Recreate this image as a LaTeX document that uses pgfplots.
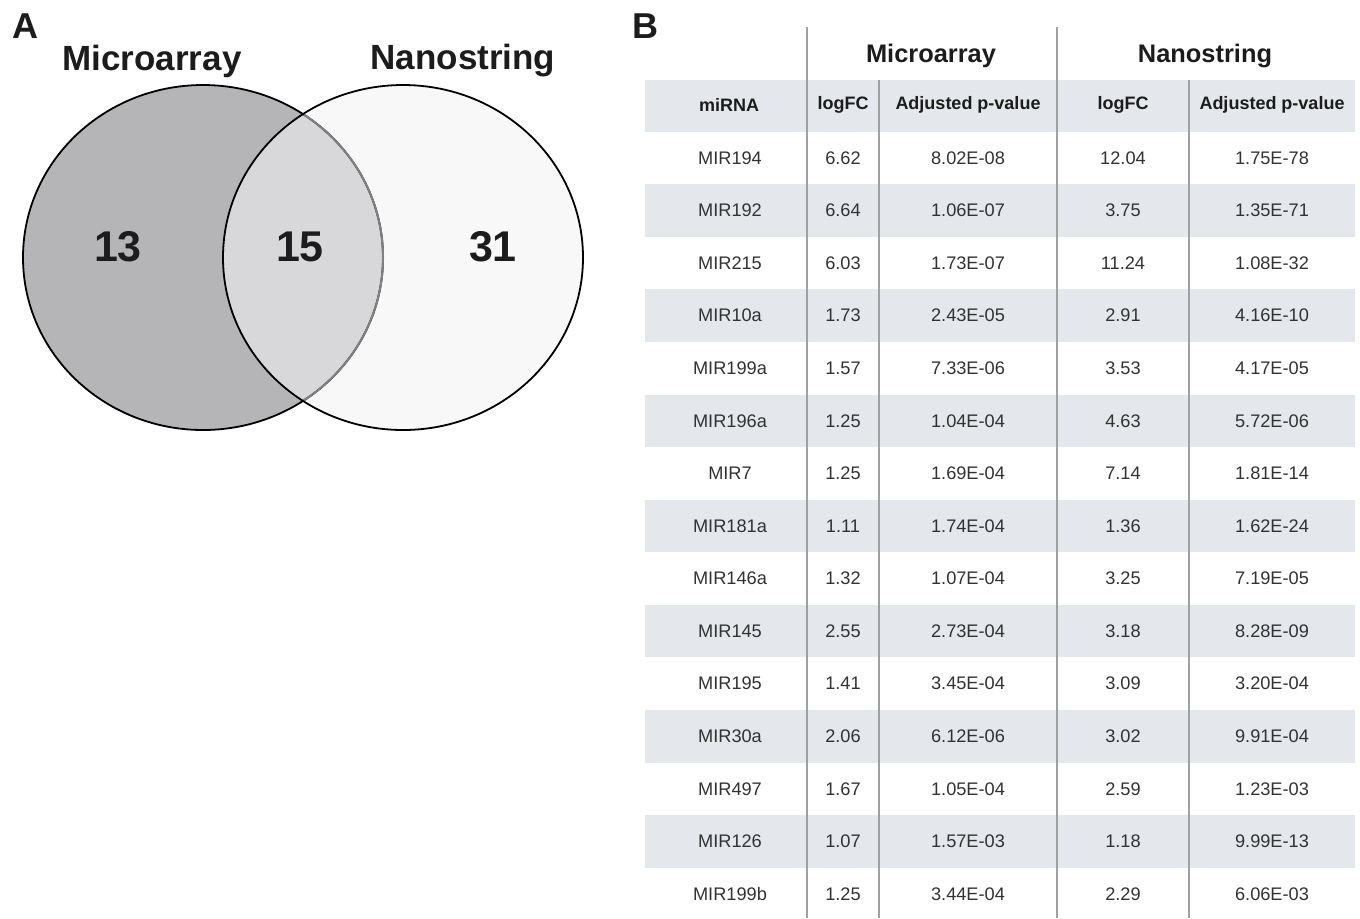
\documentclass[border=0pt]{standalone}
\usepackage{fontspec}
\setmainfont{Liberation Sans}
\usepackage{pgfplots}
\usepackage{pgfplotstable}
\pgfplotsset{compat=1.18}
\definecolor{venndark}{RGB}{181,181,184}
\definecolor{venninter}{RGB}{216,216,218}
\definecolor{vennlight}{RGB}{248,248,248}
\definecolor{bandgray}{RGB}{228,231,235}
\definecolor{linegray}{RGB}{160,160,160}
\definecolor{datatext}{RGB}{50,50,50}
\definecolor{headtext}{RGB}{28,28,28}

\pgfplotstableread{
mirna mfc madj nfc nadj
MIR194 6.62 8.02E-08 12.04 1.75E-78
MIR192 6.64 1.06E-07 3.75 1.35E-71
MIR215 6.03 1.73E-07 11.24 1.08E-32
MIR10a 1.73 2.43E-05 2.91 4.16E-10
MIR199a 1.57 7.33E-06 3.53 4.17E-05
MIR196a 1.25 1.04E-04 4.63 5.72E-06
MIR7 1.25 1.69E-04 7.14 1.81E-14
MIR181a 1.11 1.74E-04 1.36 1.62E-24
MIR146a 1.32 1.07E-04 3.25 7.19E-05
MIR145 2.55 2.73E-04 3.18 8.28E-09
MIR195 1.41 3.45E-04 3.09 3.20E-04
MIR30a 2.06 6.12E-06 3.02 9.91E-04
MIR497 1.67 1.05E-04 2.59 1.23E-03
MIR126 1.07 1.57E-03 1.18 9.99E-13
MIR199b 1.25 3.44E-04 2.29 6.06E-03
}\mirtable

\pgfplotstableread{
x y n
118 247 13
300 247 15
493 247 31
}\venntable

\begin{document}
\begin{tikzpicture}
\useasboundingbox (0,0) rectangle (680pt,459pt);
\begin{axis}[at={(0,0)}, anchor=south west,
  width=680pt, height=459pt, scale only axis,
  xmin=0, xmax=1360, ymin=0, ymax=918, y dir=reverse,
  hide axis, clip=false]

% ---------- Venn diagram ----------
\fill[venndark] (axis cs:203,257.5) ellipse [x radius=90pt, y radius=86.25pt];
\fill[vennlight] (axis cs:403,257.5) ellipse [x radius=90pt, y radius=86.25pt];
\begin{scope}
  \clip (axis cs:203,257.5) ellipse [x radius=90pt, y radius=86.25pt];
  \fill[venninter] (axis cs:403,257.5) ellipse [x radius=90pt, y radius=86.25pt];
\end{scope}
\draw[black, line width=0.9pt] (axis cs:203,257.5) ellipse [x radius=90pt, y radius=86.25pt];
\begin{scope}
  \clip (axis cs:403,257.5) ellipse [x radius=90pt, y radius=86.25pt];
  \draw[gray, line width=1.0pt] (axis cs:203,257.5) ellipse [x radius=90pt, y radius=86.25pt];
\end{scope}
\draw[black, line width=0.9pt] (axis cs:403,257.5) ellipse [x radius=90pt, y radius=86.25pt];

\node[font=\fontsize{18}{20}\selectfont\bfseries, text=headtext] at (axis cs:25,26) {A};
\node[font=\fontsize{17.5}{20}\selectfont\bfseries, text=headtext] at (axis cs:152,61) {Microarray};
\node[font=\fontsize{17.5}{20}\selectfont\bfseries, text=headtext] at (axis cs:463,61) {Nanostring};

\addplot[draw=none, mark=none, nodes near coords, point meta=explicit symbolic,
  every node near coord/.append style={anchor=center, font=\fontsize{21.5}{24}\selectfont\bfseries, text=headtext}]
  table[x=x, y=y, meta=n] {\venntable};

% ---------- Table ----------
\node[font=\fontsize{18}{20}\selectfont\bfseries, text=headtext] at (axis cs:645,26) {B};
\fill[bandgray] (axis cs:645,80) rectangle (axis cs:1355,132);
\pgfplotsinvokeforeach{1,3,5,7,9,11,13}{
  \fill[bandgray] (axis cs:645,{158+52.57*#1-26.3}) rectangle (axis cs:1355,{158+52.57*#1+26.3});
}
\draw[linegray, line width=0.8pt] (axis cs:807,27) -- (axis cs:807,918);
\draw[linegray, line width=0.8pt] (axis cs:879,80) -- (axis cs:879,918);
\draw[linegray, line width=0.8pt] (axis cs:1057,27) -- (axis cs:1057,918);
\draw[linegray, line width=0.8pt] (axis cs:1189,80) -- (axis cs:1189,918);

\node[font=\fontsize{12.7}{14}\selectfont\bfseries, text=headtext] at (axis cs:931,56) {Microarray};
\node[font=\fontsize{12.7}{14}\selectfont\bfseries, text=headtext] at (axis cs:1205,56) {Nanostring};
\node[font=\fontsize{9}{10}\selectfont\bfseries, text=headtext] at (axis cs:729,105) {miRNA};
\node[font=\fontsize{9}{10}\selectfont\bfseries, text=headtext] at (axis cs:843,105) {logFC};
\node[font=\fontsize{9}{10}\selectfont\bfseries, text=headtext] at (axis cs:968,105) {Adjusted p-value};
\node[font=\fontsize{9}{10}\selectfont\bfseries, text=headtext] at (axis cs:1123,105) {logFC};
\node[font=\fontsize{9}{10}\selectfont\bfseries, text=headtext] at (axis cs:1272,105) {Adjusted p-value};

\pgfplotsset{tabcol/.style={draw=none, mark=none, nodes near coords, point meta=explicit symbolic,
  every node near coord/.append style={anchor=center, font=\fontsize{9.1}{10}\selectfont, text=datatext}}}
\addplot[tabcol] table[x expr=730, y expr=158+52.57*\coordindex, meta=mirna] {\mirtable};
\addplot[tabcol] table[x expr=843, y expr=158+52.57*\coordindex, meta=mfc] {\mirtable};
\addplot[tabcol] table[x expr=968, y expr=158+52.57*\coordindex, meta=madj] {\mirtable};
\addplot[tabcol] table[x expr=1123, y expr=158+52.57*\coordindex, meta=nfc] {\mirtable};
\addplot[tabcol] table[x expr=1272, y expr=158+52.57*\coordindex, meta=nadj] {\mirtable};

\end{axis}
\end{tikzpicture}
\end{document}
